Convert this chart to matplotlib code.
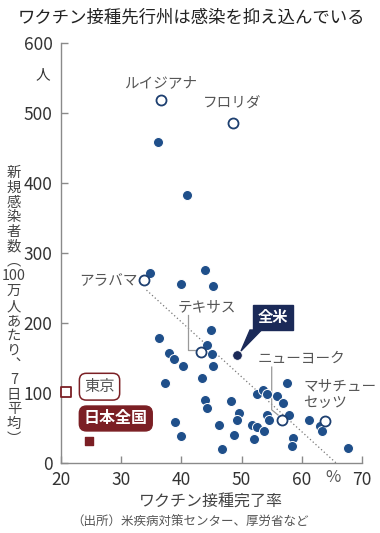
import matplotlib
matplotlib.use("Agg")
import matplotlib.pyplot as plt
from matplotlib.patches import Polygon

plt.rcParams['font.family'] = ['Noto Sans CJK JP', 'DejaVu Sans']

# ---- data ----
state_x = [36.1, 40.9, 34.8, 44.0, 39.9, 45.3, 44.9, 36.3, 44.3, 38.0, 38.8, 45.0,
           40.3, 45.3, 43.5, 37.2, 44.0, 44.2, 48.2, 49.5, 49.2, 38.9, 39.9, 46.3,
           48.7, 46.7, 52.5, 53.5, 54.3, 55.9, 57.5, 56.9, 54.3, 54.6, 51.7, 52.5,
           53.7, 52.1, 57.9, 58.6, 58.3, 61.2, 63.0, 63.4, 67.6]
state_y = [459, 383, 271, 275, 255, 253, 190, 178, 168, 157, 149, 156,
           138, 139, 122, 114, 90, 78, 89, 71, 61, 59, 39, 55,
           40, 20, 99, 104, 99, 96, 115, 86, 68, 62, 54, 52,
           46, 34, 69, 36, 24, 62, 53, 46, 22]

named_states = ['ルイジアナ', 'フロリダ', 'アラバマ', 'テキサス', 'ニューヨーク', 'マサチューセッツ']
named_x = [36.6, 48.6, 33.8, 43.3, 56.7, 63.9]
named_y = [519, 486, 261, 159, 61, 60]

us_x, us_y = 49.3, 154
tokyo_x, tokyo_y = 20.9, 102
japan_x, japan_y = 24.7, 32

trend_x = [34.2, 65.7]
trend_y = [247, 0]

x_ticks = [20, 30, 40, 50, 60, 70]
y_ticks = [0, 100, 200, 300, 400, 500, 600]

# ---- figure ----
W, H = 380, 533
fig = plt.figure(figsize=(W / 100, H / 100), dpi=100)
ax = fig.add_axes([61 / W, 70 / H, 301 / W, 420 / H])
ax.set_xlim(20, 70)
ax.set_ylim(0, 600)

def px(x, y):
    return x / W, 1 - y / H

blue = '#1f4f8a'
navy = '#1b2a58'
dred = '#7b1f24'
gray_txt = '#555555'
spine_c = '#8a8a8a'

for s in ['top', 'right']:
    ax.spines[s].set_visible(False)
for s in ['left', 'bottom']:
    ax.spines[s].set_color(spine_c)
    ax.spines[s].set_linewidth(1.0)

tick_font = ['Liberation Sans Narrow', 'DejaVu Sans Condensed', 'Noto Sans CJK JP']
ax.set_xticks(x_ticks)
ax.set_yticks(y_ticks)
ax.tick_params(direction='in', length=5, width=1.0, color=spine_c,
               labelsize=12.5, labelcolor='#333333')
ax.tick_params(axis='y', pad=6)
ax.tick_params(axis='x', pad=6)
for lab in ax.get_xticklabels() + ax.get_yticklabels():
    lab.set_fontfamily(tick_font)

# trend line
ax.plot(trend_x, trend_y, linestyle=(0, (1, 2)), color='#777777', lw=0.9, zorder=1)

# leader lines
ax.plot([41.1, 41.1, 42.6], [211, 161, 161], color='#999999', lw=0.9, zorder=1)
ax.plot([55.0, 55.0, 56.05], [137, 76, 68.6], color='#999999', lw=0.9, zorder=1)

# points
ax.scatter(state_x, state_y, s=52, color=blue, edgecolor='white', linewidth=0.7, zorder=3)
ax.scatter(named_x, named_y, s=52, facecolor='white', edgecolor='#1d3f70', linewidth=1.3, zorder=4)
ax.scatter([us_x], [us_y], s=48, color=navy, edgecolor='white', linewidth=0.6, zorder=5)
ax.scatter([tokyo_x], [tokyo_y], s=50, marker='s', facecolor='white', edgecolor=dred,
           linewidth=1.3, zorder=5, clip_on=False)
ax.scatter([japan_x], [japan_y], s=40, marker='s', color=dred, zorder=5, clip_on=False)

# state labels
lab_kw = dict(fontsize=10.5, color=gray_txt, va='center')
ax.text(36.53, 543, 'ルイジアナ', ha='center', **lab_kw)
ax.text(48.36, 513, 'フロリダ', ha='center', **lab_kw)
ax.text(32.8, 260, 'アラバマ', ha='right', **lab_kw)
ax.text(44.2, 223, 'テキサス', ha='center', **lab_kw)
ax.text(59.9, 148.6, 'ニューヨーク', ha='center', **lab_kw)
ax.text(60.2, 110, 'マサチュー', ha='left', clip_on=False, **lab_kw)
ax.text(60.2, 86, 'セッツ', ha='left', **lab_kw)

# 全米 callout
ax.text(55.2, 208, '全米', ha='center', va='center', fontsize=11, fontweight='bold',
        color='white', zorder=6,
        bbox=dict(boxstyle='square,pad=0.3', fc=navy, ec=navy))
ax.add_patch(Polygon([[51.4, 190], [53.3, 190], [49.9, 160]], closed=True,
                     fc=navy, ec=navy, zorder=6))

# 東京 / 日本全国 boxes
ax.text(26.4, 109, '東京', ha='center', va='center', fontsize=11, color=gray_txt, zorder=6,
        bbox=dict(boxstyle='round,pad=0.32,rounding_size=0.45', fc='white', ec=dred, lw=1.1))
ax.text(29.1, 63.6, '日本全国', ha='center', va='center', fontsize=11.5, fontweight='bold',
        color='white', zorder=6,
        bbox=dict(boxstyle='round,pad=0.28,rounding_size=0.45', fc=dred, ec=dred))

# figure texts
fig.text(*px(191, 18), 'ワクチン接種先行州は感染を抑え込んでいる', ha='center', va='center',
         fontsize=12.5, color='#222222')
fig.text(*px(43, 75), '人', ha='center', va='center', fontsize=10.5, color='#333333')
fig.text(*px(333, 478), '%', ha='center', va='center', fontsize=12, color='#555555',
         family=tick_font)

ylab = '\n'.join(['新', '規', '感', '染', '者', '数', '︵', '100', '万', '人', 'あ', 'た', 'り',
                  '︑', '7', '日', '平', '均', '︶'])
fig.text(*px(14, 306), ylab, ha='center', va='center', fontsize=10.3, color='#444444',
         linespacing=1.07, multialignment='center',
         family=['Noto Sans CJK JP', 'DejaVu Sans'])

fig.text(*px(211, 502), 'ワクチン接種完了率', ha='center', va='center', fontsize=11.5,
         color='#444444')
fig.text(*px(190, 522), '（出所）米疾病対策センター、厚労省など', ha='center', va='center',
         fontsize=9, color='#555555')

fig.savefig('out.png', dpi=100)
